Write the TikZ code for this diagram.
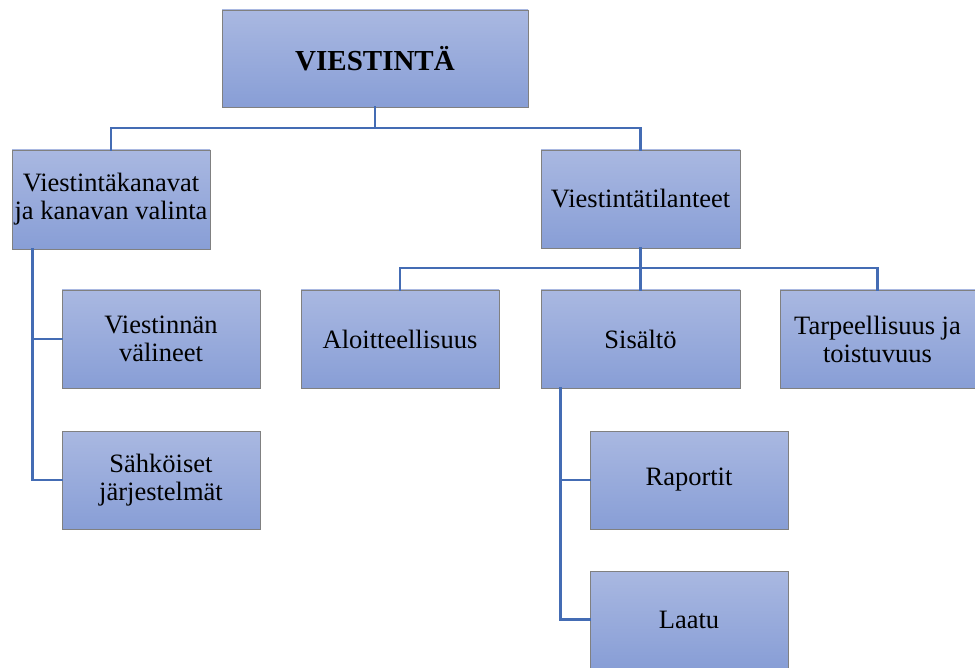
\documentclass[tikz,border=0pt]{standalone}
\usepackage{fontspec}
\setmainfont{Liberation Serif}
\usetikzlibrary{calc}
\definecolor{boxtop}{RGB}{169,184,225}
\definecolor{boxbot}{RGB}{136,158,214}
\definecolor{boxline}{RGB}{128,128,128}
\definecolor{conncol}{RGB}{68,108,180}
\tikzset{
  box/.style={rectangle, draw=boxline, line width=0.9pt, top color=boxtop, bottom color=boxbot,
    inner sep=0pt, align=center, font=\fontsize{26.5}{28}\selectfont},
  conn/.style={draw=conncol, line width=2.6pt, line cap=rect}
}
\begin{document}
\begin{tikzpicture}[x=1pt,y=-1pt]
\useasboundingbox (0,0) rectangle (975,668);
\node[box, minimum width=306pt, minimum height=97pt, font=\fontsize{29}{32}\selectfont\bfseries] (root) at (375,58.5) {VIESTINTÄ};
\node[box, minimum width=198pt, minimum height=99pt] (kan) at (111,199.5) {Viestintäkanavat\\ja kanavan valinta};
\node[box, minimum width=199pt, minimum height=98pt] (til) at (640.5,199) {Viestintätilanteet};
\node[box, minimum width=198pt, minimum height=98pt] (val) at (161,339) {Viestinnän\\välineet};
\node[box, minimum width=198pt, minimum height=98pt] (sah) at (161,480) {Sähköiset\\järjestelmät};
\node[box, minimum width=198pt, minimum height=98pt] (alo) at (400,339) {Aloitteellisuus};
\node[box, minimum width=199pt, minimum height=98pt] (sis) at (640.5,339) {Sisältö};
\node[box, minimum width=195pt, minimum height=98pt] (tar) at (877.5,339) {Tarpeellisuus ja\\toistuvuus};
\node[box, minimum width=198pt, minimum height=98pt] (rap) at (689,480) {Raportit};
\node[box, minimum width=198pt, minimum height=97pt] (laa) at (689,619.5) {Laatu};
\coordinate (b1) at (375,128);
\coordinate (b2) at (640.5,268);
\coordinate (k0) at ($(kan.south west)+(21,0)$);
\coordinate (s0) at ($(sis.south west)+(20,0)$);
\draw[conn] (root.south) -- (b1) -| (kan.north);
\draw[conn] (b1) -| (til.north);
\draw[conn] (til.south) -- (b2) -| (alo.north);
\draw[conn] (b2) -| (tar.north);
\draw[conn] (b2) -- (sis.north);
\draw[conn] (k0) |- (val.west);
\draw[conn] (k0) |- (sah.west);
\draw[conn] (s0) |- (rap.west);
\draw[conn] (s0) |- (laa.west);
\end{tikzpicture}
\end{document}
